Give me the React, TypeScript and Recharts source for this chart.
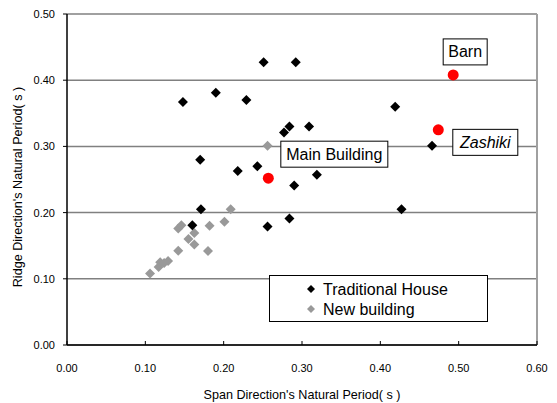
import React from "react";
import {
  ScatterChart,
  Scatter,
  XAxis,
  YAxis,
  CartesianGrid,
  ReferenceLine,
  Legend,
  Label,
} from "recharts";

// ---- data ----
const xTicks = [0, 0.1, 0.2, 0.3, 0.4, 0.5, 0.6];
const yTicks = [0, 0.1, 0.2, 0.3, 0.4, 0.5];

const traditionalSpan = [
  0.251, 0.292, 0.148, 0.19, 0.229, 0.284, 0.277, 0.309, 0.17, 0.243,
  0.218, 0.29, 0.319, 0.419, 0.466, 0.427, 0.284, 0.256, 0.171, 0.16,
];
const traditionalRidge = [
  0.427, 0.427, 0.367, 0.381, 0.37, 0.33, 0.321, 0.33, 0.28, 0.27,
  0.263, 0.241, 0.257, 0.36, 0.301, 0.205, 0.191, 0.179, 0.205, 0.181,
];

const newSpan = [
  0.106, 0.117, 0.119, 0.124, 0.129, 0.142, 0.142, 0.146, 0.155, 0.1625,
  0.1625, 0.182, 0.18, 0.201, 0.209, 0.256,
];
const newRidge = [
  0.108, 0.118, 0.125, 0.124, 0.127, 0.1425, 0.176, 0.181, 0.16, 0.169,
  0.152, 0.18, 0.142, 0.186, 0.205, 0.301,
];

const labeledNames = ["Barn", "Zashiki", "Main Building"];
const labeledSpan = [0.493, 0.474, 0.257];
const labeledRidge = [0.408, 0.325, 0.252];

const seriesNames = ["Traditional House", "New building"];

// ---- layout / style config ----
const FONT = "'Liberation Sans', Arial, sans-serif";
const labelBoxes: Record<string, { dx: number; dy: number; w: number; italic: boolean }> = {
  Barn: { dx: 12, dy: -23, w: 44, italic: false },
  Zashiki: { dx: 47, dy: 12.5, w: 65, italic: true },
  "Main Building": { dx: 66, dy: -24, w: 107, italic: false },
};

const traditionalData = traditionalSpan.map((s, i) => ({ span: s, ridge: traditionalRidge[i] }));
const newData = newSpan.map((s, i) => ({ span: s, ridge: newRidge[i] }));
const labeledData = labeledSpan.map((s, i) => ({ span: s, ridge: labeledRidge[i], name: labeledNames[i] }));

const Diamond = (color: string, r: number) => (props: any) => {
  const { cx, cy } = props;
  if (cx == null || cy == null) return <g />;
  return (
    <polygon
      points={`${cx},${cy - r} ${cx + r},${cy} ${cx},${cy + r} ${cx - r},${cy}`}
      fill={color}
    />
  );
};

const LabeledShape = (props: any) => {
  const { cx, cy, payload } = props;
  if (cx == null || cy == null) return <g />;
  const b = labelBoxes[payload.name];
  const bx = cx + b.dx;
  const by = cy + b.dy;
  return (
    <g>
      <circle cx={cx} cy={cy} r={5.5} fill="#ff0000" />
      <rect x={bx - b.w / 2} y={by - 13} width={b.w} height={26} fill="#fff" stroke="#000" strokeWidth={1} />
      <text
        x={bx}
        y={by + 5.5}
        textAnchor="middle"
        fontSize={16}
        fontFamily={FONT}
        fontStyle={b.italic ? "italic" : "normal"}
        fill="#000"
      >
        {payload.name}
      </text>
    </g>
  );
};

const XTick = (props: any) => {
  const { x, y, payload } = props;
  return (
    <g>
      <line x1={x} x2={x} y1={y} y2={y - 4} stroke="#000" strokeWidth={1} />
      <text x={x} y={y + 27} textAnchor="middle" fontSize={11} fontFamily={FONT} fill="#000">
        {Number(payload.value).toFixed(2)}
      </text>
    </g>
  );
};

const YTick = (props: any) => {
  const { x, y, payload } = props;
  return (
    <text x={x} y={y + 4} textAnchor="end" fontSize={11} fontFamily={FONT} fill="#000">
      {Number(payload.value).toFixed(2)}
    </text>
  );
};

const LegendContent = () => {
  const colors = ["#000", "#999"];
  return (
    <svg width={220} height={48} style={{ display: "block" }}>
      <rect x={0.5} y={0.5} width={218} height={46} fill="#fff" stroke="#000" strokeWidth={1} />
      {seriesNames.map((n, i) => {
        const cy = 14 + i * 20;
        return (
          <g key={n}>
            <polygon
              points={`42,${cy - 4} 46,${cy} 42,${cy + 4} 38,${cy}`}
              fill={colors[i]}
            />
            <text x={54} y={cy + 6} fontSize={16} fontFamily={FONT} fill="#000">
              {n}
            </text>
          </g>
        );
      })}
    </svg>
  );
};

export default function App() {
  return (
    <div style={{ position: "absolute", left: 0, top: 0, background: "#fff" }}>
      <ScatterChart
        width={557}
        height={403}
        margin={{ top: 14, right: 20, bottom: 57, left: 66 }}
        style={{ fontFamily: FONT }}
      >
        <CartesianGrid vertical={false} stroke="#808080" strokeWidth={1.5} />
        <XAxis
          type="number"
          dataKey="span"
          domain={[0, 0.6]}
          ticks={xTicks}
          height={1}
          tickSize={0}
          tickMargin={0}
          tickLine={false}
          tick={XTick}
          axisLine={{ stroke: "#000", strokeWidth: 1.5 }}
          interval={0}
        >
          <Label
            content={() => (
              <text x={302} y={399} textAnchor="middle" fontSize={12.6} fontFamily={FONT} fill="#000">
                Span Direction's Natural Period( s )
              </text>
            )}
          />
        </XAxis>
        <YAxis
          type="number"
          dataKey="ridge"
          domain={[0, 0.5]}
          ticks={yTicks}
          width={1}
          tickSize={4}
          tickMargin={8}
          tickLine={{ stroke: "#000" }}
          tick={YTick}
          axisLine={{ stroke: "#000", strokeWidth: 1.5 }}
          interval={0}
        >
          <Label
            content={() => (
              <text
                x={22}
                y={187}
                textAnchor="middle"
                fontSize={12.6}
                fontFamily={FONT}
                fill="#000"
                transform="rotate(-90,22,187)"
              >
                Ridge Direction's Natural Period( s )
              </text>
            )}
          />
        </YAxis>
        <ReferenceLine x={0.6} stroke="#a0a0a0" strokeWidth={2} ifOverflow="visible" />
        <Legend
          layout="horizontal"
          verticalAlign="middle"
          align="center"
          content={<LegendContent />}
          wrapperStyle={{ left: 269, top: 275, width: 220, height: 48 }}
        />
        <Scatter
          name={seriesNames[1]}
          data={newData}
          shape={Diamond("#999999", 5)}
          isAnimationActive={false}
        />
        <Scatter
          name={seriesNames[0]}
          data={traditionalData}
          shape={Diamond("#000000", 5)}
          isAnimationActive={false}
        />
        <Scatter
          name="Labeled"
          data={labeledData}
          shape={LabeledShape}
          isAnimationActive={false}
          legendType="none"
        />
      </ScatterChart>
    </div>
  );
}
